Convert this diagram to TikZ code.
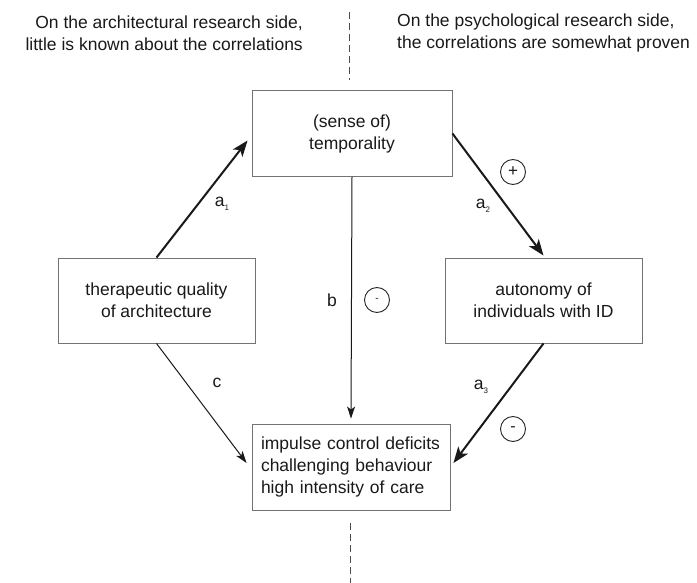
\documentclass[tikz,border=0pt]{standalone}
\usepackage{fontspec}
\setmainfont{Liberation Sans}
\usetikzlibrary{arrows.meta,calc}
\begin{document}
\begin{tikzpicture}[x=1pt,y=-1pt,
  every node/.style={font=\fontsize{17.5}{22}\selectfont, text=black!90},
  box/.style={draw=black!55, line width=0.9pt, minimum width=198pt, minimum height=86pt, align=center, inner sep=0pt},
  thickarrow/.style={line width=2pt, draw=black!90, -{Stealth[length=16pt,width=12pt,inset=4pt]}},
  thinarrow/.style={line width=1pt, draw=black!90, -{Stealth[length=12pt,width=8pt,inset=3pt]}},
  divider/.style={draw=black!70, line width=0.9pt, dash pattern=on 7pt off 4pt},
  sign/.style={circle, draw=black!85, line width=0.9pt, minimum size=25pt, inner sep=0pt},
  lbl/.style={inner sep=0pt}
]
\useasboundingbox (0,0) rectangle (697,583);
\coordinate (d1) at (349,12);
\coordinate (d2) at (349,80);
\coordinate (d3) at (350,523);
\coordinate (d4) at (350,583);
\draw[divider] (d1) -- (d2);
\draw[divider] (d3) -- (d4);
\node[anchor=east, align=right, inner sep=0pt] (hl) at (303,33) {On the architectural research side,\\little is known about the correlations};
\node[anchor=west, align=left, inner sep=0pt] (hr) at (397,33) {On the psychological research side,\\the correlations are somewhat proven};
\node[box, minimum width=200pt] (T) at (352,133.5) {(sense of)\\temporality};
\node[box, minimum width=197pt, minimum height=85pt] (L) at (156.5,300.5) {therapeutic quality\\of architecture};
\node[box, minimum width=197pt, minimum height=85pt] (R) at (543.5,300.5) {autonomy of\\individuals with ID};
\node[box, align=left, text width=180pt, inner xsep=9pt] (B) at (351,467) {impulse control deficits\\challenging behaviour\\high intensity of care};
\draw[thickarrow] (L.north) -- ($(T.west)+(-4,7)$);
\draw[thickarrow] (T.east) -- ($(R.north)+(0,-2)$);
\draw[thinarrow] (T.south) -- ($(B.north)+(0,-5)$);
\draw[thinarrow] (L.south) -- ($(B.west)+(-5,-4)$);
\draw[thickarrow] (R.south) -- ($(B.east)+(3,-4)$);
\node[lbl] (la1) at (222,204) {a\raisebox{-0.45ex}{\fontsize{8}{8}\selectfont 1}};
\node[lbl] (la2) at (483,206) {a\raisebox{-0.45ex}{\fontsize{8}{8}\selectfont 2}};
\node[lbl] (lb) at (332,300) {b};
\node[lbl] (lc) at (217,383) {c};
\node[lbl] (la3) at (481,387) {a\raisebox{-0.45ex}{\fontsize{8}{8}\selectfont 3}};
\node[sign] (sp) at (513,172) {\fontsize{17}{17}\selectfont +};
\node[sign] (sm1) at (377,300) {\fontsize{10}{10}\selectfont -};
\node[sign] (sm2) at (513,429) {\fontsize{16}{16}\selectfont -};
\end{tikzpicture}
\end{document}
